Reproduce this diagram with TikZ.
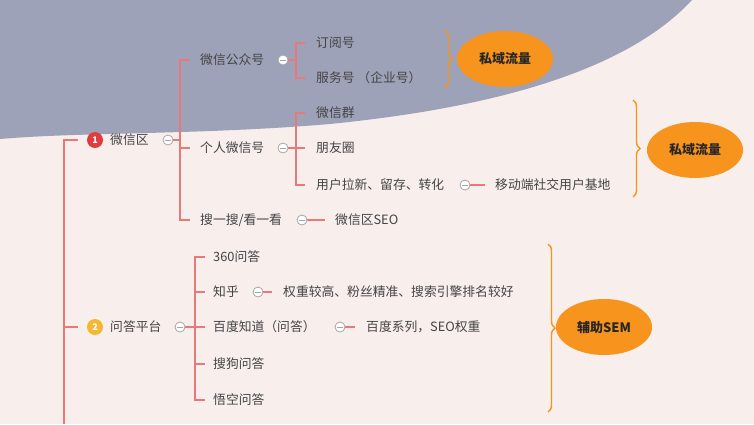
\documentclass[tikz,border=0pt]{standalone}
\usepackage{fontspec}
\setmainfont{Noto Sans CJK SC}
\usetikzlibrary{decorations.pathreplacing,shapes.geometric}
\definecolor{bgpink}{HTML}{F8EEEC}
\definecolor{bgblue}{HTML}{9DA2B9}
\definecolor{lred}{HTML}{E8787A}
\definecolor{txt}{HTML}{444444}
\definecolor{org}{HTML}{F7941D}
\definecolor{bred}{HTML}{E03C40}
\definecolor{byel}{HTML}{F5B731}
\begin{document}
\begin{tikzpicture}[x=1pt,y=-1pt,
  lab/.style={anchor=west,text=txt,font=\fontsize{12.8}{14}\selectfont,inner sep=0pt},
  conn/.style={draw=lred,line width=1.4pt},
  tog/.style={circle,draw=gray!70,fill=white,line width=0.8pt,minimum size=10pt,inner sep=0pt,
    path picture={\draw[gray!70,line width=1pt] ([xshift=-3pt]path picture bounding box.center)--([xshift=3pt]path picture bounding box.center);}},
  badge/.style={circle,minimum size=16pt,inner sep=0pt,text=white,font=\bfseries\fontsize{9}{10}\selectfont},
  brc/.style={draw=org,line width=1.4pt,decorate,decoration={brace,amplitude=7pt}},
  oval/.style={ellipse,fill=org,minimum width=96pt,minimum height=56pt,inner sep=0pt,font=\bfseries\fontsize{13}{15}\selectfont,text=black!85}]
\fill[bgpink] (0,0) rectangle (754,424);
\fill[bgblue] (0,0) -- (0,139) .. controls (80,132) and (200,135) .. (330,124) .. controls (470,110) and (620,78) .. (692,0) -- cycle;
\useasboundingbox (0,0) rectangle (754,424);
% trunk
\coordinate (t0) at (64,140); \coordinate (t1) at (64,424);
\draw[conn] (78,140) -- (t0) -- (t1);
\draw[conn] (64,327) -- (78,327);
% branch 1
\node[badge,fill=bred] (b1) at (95,140) {1};
\node[lab] (wx) at (110,140) {微信区};
\node[tog] (c1) at (168,140) {};
\draw[conn] (c1.east) -- (180,140);
\draw[conn] (190,60) -- (180,60) -- (180,220) -- (190,220);
\draw[conn] (180,148) -- (190,148);
\node[lab] (gzh) at (200,60) {微信公众号};
\node[tog] (c11) at (283,60) {};
\draw[conn] (c11.east) -- (296,60);
\draw[conn] (305,43) -- (296,43) -- (296,78) -- (305,78);
\node[lab] (dy) at (316,43) {订阅号};
\node[lab] (fw) at (316,78) {服务号 （企业号）};
\draw[brc] (445,30) -- (445,88);
\node[oval] (o1) at (505,59) {私域流量};
\node[lab] (gr) at (200,148) {个人微信号};
\node[tog] (c12) at (283,148) {};
\draw[conn] (c12.east) -- (305,148);
\draw[conn] (305,113) -- (296,113) -- (296,185) -- (305,185);
\node[lab] (wq) at (316,113) {微信群};
\node[lab] (pyq) at (316,148) {朋友圈};
\node[lab] (yh) at (316,185) {用户拉新、留存、转化};
\node[tog] (c13) at (465,185) {};
\draw[conn] (c13.east) -- (485,185);
\node[lab] (yd) at (495,185) {移动端社交用户基地};
\draw[brc] (633,100) -- (633,197);
\node[oval] (o2) at (695,150) {私域流量};
\node[lab] (ss) at (200,220) {搜一搜/看一看};
\node[tog] (c14) at (302,220) {};
\draw[conn] (c14.east) -- (325,220);
\node[lab] (seo) at (335,220) {微信区SEO};
% branch 2
\node[badge,fill=byel] (b2) at (95,327) {2};
\node[lab] (wd) at (110,327) {问答平台};
\node[tog] (c2) at (180,327) {};
\draw[conn] (c2.east) -- (205,327);
\draw[conn] (205,257) -- (195,257) -- (195,400) -- (205,400);
\draw[conn] (195,292) -- (205,292);
\draw[conn] (195,364) -- (205,364);
\node[lab] (q360) at (213,257) {360问答};
\node[lab] (zh) at (213,292) {知乎};
\node[tog] (c21) at (258,292) {};
\draw[conn] (c21.east) -- (272,292);
\node[lab] (zht) at (283,292) {权重较高、粉丝精准、搜索引擎排名较好};
\node[lab] (bd) at (213,327) {百度知道（问答）};
\node[tog] (c22) at (340,327) {};
\draw[conn] (c22.east) -- (355,327);
\node[lab] (bdt) at (366,327) {百度系列，SEO权重};
\node[lab] (sg) at (213,364) {搜狗问答};
\node[lab] (wk) at (213,400) {悟空问答};
\draw[brc] (548,244) -- (548,412);
\node[oval] (o3) at (604,327) {辅助SEM};
\end{tikzpicture}
\end{document}
